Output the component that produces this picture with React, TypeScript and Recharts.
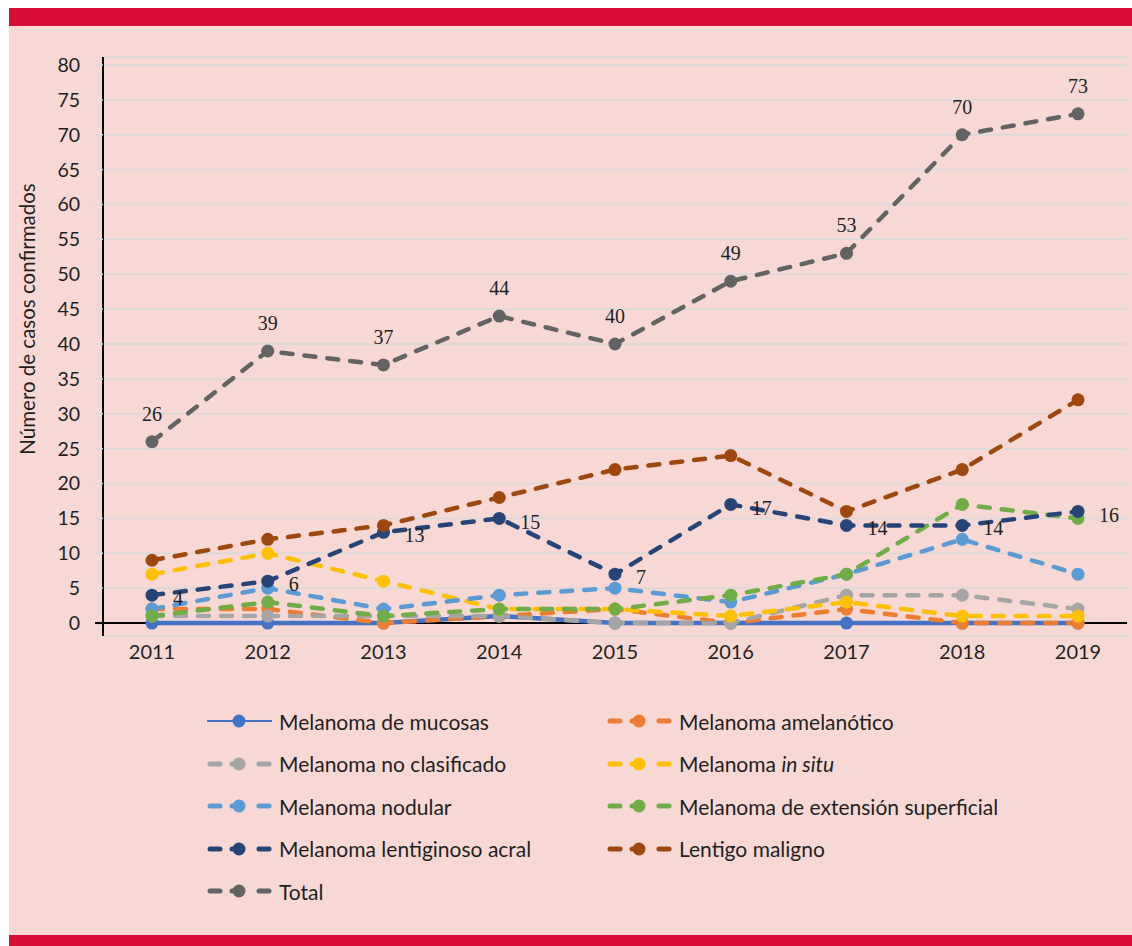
import React from 'react'
import {
  LineChart,
  Line,
  XAxis,
  YAxis,
  CartesianGrid,
  ReferenceLine,
  Legend,
  LabelList,
} from 'recharts'

const years = ['2011', '2012', '2013', '2014', '2015', '2016', '2017', '2018', '2019']

const mucosas = [0, 0, 0, 1, 0, 0, 0, 0, 0]
const amelanotico = [2, 2, 0, 1, 2, 0, 2, 0, 0]
const noClasificado = [1, 1, 1, 1, 0, 0, 4, 4, 2]
const inSitu = [7, 10, 6, 2, 2, 1, 3, 1, 1]
const nodular = [2, 5, 2, 4, 5, 3, 7, 12, 7]
const extensionSuperficial = [1, 3, 1, 2, 2, 4, 7, 17, 15]
const lentiginosoAcral = [4, 6, 13, 15, 7, 17, 14, 14, 16]
const lentigoMaligno = [9, 12, 14, 18, 22, 24, 16, 22, 32]
const total = [26, 39, 37, 44, 40, 49, 53, 70, 73]

const yTicks = [0, 5, 10, 15, 20, 25, 30, 35, 40, 45, 50, 55, 60, 65, 70, 75, 80]

const data = years.map((year, i) => ({
  year,
  mucosas: mucosas[i],
  amelanotico: amelanotico[i],
  noClasificado: noClasificado[i],
  inSitu: inSitu[i],
  nodular: nodular[i],
  extension: extensionSuperficial[i],
  acral: lentiginosoAcral[i],
  lentigo: lentigoMaligno[i],
  total: total[i],
}))

const series = [
  { key: 'mucosas', name: 'Melanoma de mucosas', color: '#4472C4', solid: true },
  { key: 'amelanotico', name: 'Melanoma amelanótico', color: '#ED7D31' },
  { key: 'noClasificado', name: 'Melanoma no clasificado', color: '#A5A5A5' },
  { key: 'inSitu', name: 'Melanoma in situ', color: '#FFC000' },
  { key: 'nodular', name: 'Melanoma nodular', color: '#5B9BD5' },
  { key: 'extension', name: 'Melanoma de extensión superficial', color: '#70AD47' },
  { key: 'acral', name: 'Melanoma lentiginoso acral', color: '#264478' },
  { key: 'lentigo', name: 'Lentigo maligno', color: '#9E480E' },
  { key: 'total', name: 'Total', color: '#636363' },
]

const SANS = 'Lato, "Open Sans", sans-serif'
const SERIF = '"Liberation Serif", "DejaVu Serif", serif'
const PINK = '#F7D8D4'
const RED = '#D80E37'
const TEXT = '#1f1f1f'

const YTick = (props: any) => {
  const { x, y, payload } = props
  return (
    <g>
      <line
        x1={x + 15}
        x2={x + 23}
        y1={y}
        y2={y}
        stroke={payload.value === 0 ? '#000' : '#D9D9D9'}
        strokeWidth={payload.value === 0 ? 2 : 1.5}
      />
      <text x={x} y={y} dy="0.355em" textAnchor="end" fontFamily={SANS} fontSize={19.5} fill={TEXT}>
        {payload.value}
      </text>
    </g>
  )
}

const totalLabel = (props: any) => (
  <text x={props.x} y={props.y - 21} textAnchor="middle" fontFamily={SERIF} fontSize={20} fill={TEXT}>
    {props.value}
  </text>
)

const acralLabel = (props: any) => (
  <text x={props.x + 21} y={props.y + 3} dy="0.355em" textAnchor="start" fontFamily={SERIF} fontSize={20} fill={TEXT}>
    {props.value}
  </text>
)

const LegendIcon = ({ color, solid }: { color: string; solid?: boolean }) => (
  <svg width={66} height={16} style={{ display: 'block', flex: 'none' }}>
    {solid ? (
      <line x1={0} x2={65} y1={8} y2={8} stroke={color} strokeWidth={2} />
    ) : (
      <g stroke={color} strokeWidth={5} strokeLinecap="round">
        <line x1={3} x2={13} y1={8} y2={8} />
        <line x1={25} x2={30} y1={8} y2={8} />
        <line x1={52} x2={62} y1={8} y2={8} />
      </g>
    )}
    <circle cx={32} cy={8} r={6.5} fill={color} />
  </svg>
)

const legendText = (name: string) => {
  if (name === 'Melanoma in situ') {
    return (
      <>
        Melanoma <i>in situ</i>
      </>
    )
  }
  return name
}

const LegendContent = () => (
  <div
    style={{
      display: 'grid',
      gridTemplateColumns: '400px 400px',
      gridAutoRows: '42.5px',
      fontFamily: SANS,
      fontSize: 21,
      color: TEXT,
    }}
  >
    {series.map((s) => (
      <div key={s.key} style={{ display: 'flex', alignItems: 'center', gap: 6 }}>
        <LegendIcon color={s.color} solid={s.solid} />
        <span style={{ whiteSpace: 'nowrap' }}>{legendText(s.name)}</span>
      </div>
    ))}
  </div>
)

export default function App() {
  return (
    <div
      style={{
        position: 'absolute',
        left: 9,
        top: 8,
        width: 1123,
        height: 938,
        background: PINK,
        overflow: 'hidden',
      }}
    >
      <div style={{ height: 18, background: RED }} />
      <div style={{ position: 'absolute', left: 0, right: 0, bottom: 0, height: 11, background: RED }} />
      <div style={{ position: 'absolute', left: 0, top: 0 }}>
        <LineChart
          width={1123}
          height={927}
          data={data}
          margin={{ top: 49, right: 5, left: 0, bottom: 269 }}
        >
          <CartesianGrid vertical={false} stroke="#D9D9D9" strokeWidth={1.5} />
          <XAxis
            dataKey="year"
            axisLine={false}
            tickLine={false}
            tickSize={0}
            tickMargin={9}
            height={30}
            padding={{ left: 49, right: 49 }}
            tick={{ fontFamily: SANS, fontSize: 20, fill: TEXT }}
          />
          <YAxis
            width={94}
            domain={[-13 / 7, 80 + 8 / 7]}
            ticks={yTicks}
            allowDataOverflow
            interval={0}
            axisLine={{ stroke: '#000', strokeWidth: 2 }}
            tickLine={false}
            tickSize={8}
            tickMargin={15}
            tick={<YTick />}
            label={{
              content: () => (
                <text
                  x={19}
                  y={311}
                  transform="rotate(-90 19 311)"
                  textAnchor="middle"
                  dy="0.355em"
                  fontFamily={SANS}
                  fontSize={20.5}
                  fill={TEXT}
                >
                  Número de casos confirmados
                </text>
              ),
            }}
          />
          <ReferenceLine y={0} stroke="#000" strokeWidth={2} />
          {series.map((s) => (
            <Line
              key={s.key}
              type="linear"
              dataKey={s.key}
              name={s.name}
              stroke={s.color}
              strokeWidth={4.5}
              strokeDasharray={s.solid ? undefined : '11 12'}
              strokeLinecap="round"
              dot={{ r: 6.5, fill: s.color, stroke: 'none' }}
              activeDot={false}
              isAnimationActive={false}
            >
              {s.key === 'total' && <LabelList dataKey="total" content={totalLabel} />}
              {s.key === 'acral' && <LabelList dataKey="acral" content={acralLabel} />}
            </Line>
          ))}
          <Legend
            layout="vertical"
            align="center"
            verticalAlign="middle"
            content={<LegendContent />}
            wrapperStyle={{ left: 198, top: 692, width: 820 }}
          />
        </LineChart>
      </div>
    </div>
  )
}
